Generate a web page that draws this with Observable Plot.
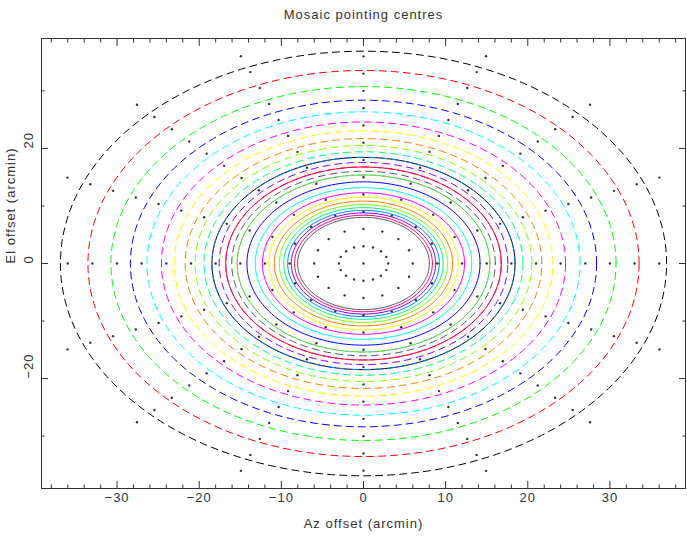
<!DOCTYPE html>
<html>
<head>
<meta charset="utf-8">
<script src="https://cdn.jsdelivr.net/npm/d3@7"></script>
<script src="https://cdn.jsdelivr.net/npm/@observablehq/plot@0.6"></script>
<style>
html, body { margin: 0; padding: 0; background: #fff; }
svg text { letter-spacing: 1px; }
</style>
</head>
<body>
<div id="chart"></div>
<script>
// ---- Text ----
const title = "Mosaic pointing centres";
const xLabel = "Az offset (arcmin)";
const yLabel = "El offset (arcmin)";

// ---- Ticks ----
const xMajorTicks = [-30, -20, -10, 0, 10, 20, 30];
const xMinorTicks = [-38, -36, -34, -32, -28, -26, -24, -22, -18, -16, -14, -12, -8, -6, -4, -2,
                     2, 4, 6, 8, 12, 14, 16, 18, 22, 24, 26, 28, 32, 34, 36, 38];
const yMajorTicks = [-20, 0, 20];
const yMinorTicks = [-30, -10, 10, 30];

// ---- PGPLOT colour indices 1..15 ----
const pgColors = ["#000000", "#ff0000", "#00ff00", "#0000ff", "#00ffff", "#ff00ff", "#ffff00",
                  "#ff8000", "#80ff00", "#00ff80", "#0080ff", "#8000ff", "#ff0080", "#555555", "#aaaaaa"];

// ---- Beam circles (radius in arcmin) ----
const dashedRadii = [36.9, 33.55, 30.75, 28.38, 26.36, 24.6, 23.06, 21.71, 20.5, 19.42, 18.45, 17.57, 16.77, 16.04, 15.38];
const solidRadii = [18.45, 16.77, 15.38, 14.19, 13.18, 12.3, 11.53, 10.85, 10.25, 9.71, 9.23, 8.79, 8.39, 8.02];

// ---- Pointing centres: rings x spokes ----
const ringRadii = [3, 6, 9, 12, 15, 18, 21, 24, 27, 30, 33, 36];
const outerRingRadius = 39;
const spokeAngles = [0, 22.5, 45, 67.5, 90, 112.5, 135, 157.5, 180, 202.5, 225, 247.5, 270, 292.5, 315, 337.5];
const outerSpokeAngles = [22.5, 45, 67.5, 112.5, 135, 157.5, 202.5, 225, 247.5, 292.5, 315, 337.5];

// ---- Build tables ----
const rad = Math.PI / 180;
const polar = (r, a) => ({x: r * Math.cos(a * rad), y: r * Math.sin(a * rad)});
const points = [{x: 0, y: 0}];
for (const r of ringRadii) for (const a of spokeAngles) points.push(polar(r, a));
for (const a of outerSpokeAngles) points.push(polar(outerRingRadius, a));

const sampleAngles = d3.range(0, 361, 2);
const ring = r => sampleAngles.map(a => polar(r, a));

const fmt = v => (v < 0 ? "\u2212" + Math.abs(v) : String(v));
const ink = "#333";
const major = 7, minor = 3.5;

const tickMarks = (ticks, len) => [
  Plot.axisX(ticks, {anchor: "bottom", tickSize: len, dy: -len, fill: "none", stroke: ink}),
  Plot.axisX(ticks, {anchor: "top", tickSize: len, dy: len, fill: "none", stroke: ink}),
];
const tickMarksY = (ticks, len) => [
  Plot.axisY(ticks, {anchor: "left", tickSize: len, dx: len, fill: "none", stroke: ink}),
  Plot.axisY(ticks, {anchor: "right", tickSize: len, dx: -len, fill: "none", stroke: ink}),
];

const chart = Plot.plot({
  width: 687,
  height: 536,
  marginLeft: 41,
  marginRight: 2,
  marginTop: 38,
  marginBottom: 48,
  style: {fontFamily: "Liberation Sans, Arial, sans-serif", fontSize: "13px", background: "#fff", color: ink},
  x: {domain: [-39.2, 39.2], axis: null},
  y: {domain: [-39.1, 39.1], axis: null},
  marks: [
    ...solidRadii.map((r, i) => Plot.line(ring(r), {x: "x", y: "y", stroke: pgColors[i], strokeWidth: 1})),
    ...dashedRadii.map((r, i) => Plot.line(ring(r), {x: "x", y: "y", stroke: pgColors[i], strokeWidth: 1, strokeDasharray: "7,5"})),
    Plot.dot(points, {x: "x", y: "y", r: 1.2, fill: ink, stroke: null}),
    Plot.frame({stroke: ink, strokeWidth: 1}),
    ...tickMarks(xMajorTicks, major),
    ...tickMarks(xMinorTicks, minor),
    ...tickMarksY(yMajorTicks, major),
    ...tickMarksY(yMinorTicks, minor),
    Plot.text(xMajorTicks, {x: d => d, text: fmt, frameAnchor: "bottom", dy: 13, fontSize: 13, fill: ink}),
    Plot.text(yMajorTicks, {y: d => d, text: fmt, frameAnchor: "left", dx: -13, rotate: -90, fontSize: 13, fill: ink}),
    Plot.text([xLabel], {text: d => d, frameAnchor: "bottom", dy: 39, fontSize: 13, fill: ink}),
    Plot.text([yLabel], {text: d => d, frameAnchor: "left", dx: -31, rotate: -90, fontSize: 13, fill: ink}),
    Plot.text([title], {text: d => d, frameAnchor: "top", dy: -29, fontSize: 13, fill: ink})
  ]
});
document.getElementById("chart").appendChild(chart);
</script>
</body>
</html>
